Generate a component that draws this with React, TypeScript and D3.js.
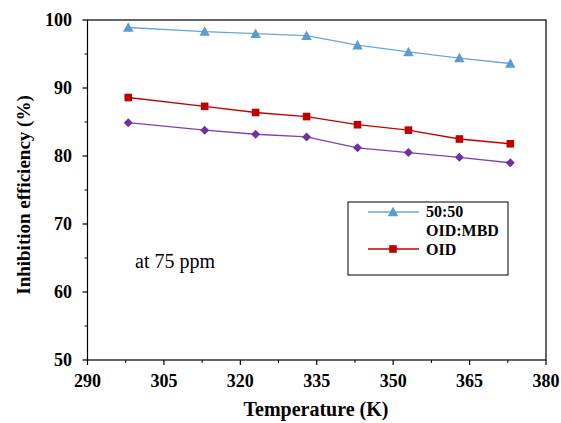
import React from "react";
import * as d3 from "d3";

const temps = [298, 313, 323, 333, 343, 353, 363, 373];
const blendValues = [98.9, 98.3, 98.0, 97.7, 96.3, 95.3, 94.4, 93.6];
const oidValues = [88.6, 87.3, 86.4, 85.8, 84.6, 83.8, 82.5, 81.8];
const mbdValues = [84.9, 83.8, 83.2, 82.8, 81.2, 80.5, 79.8, 79.0];
const xTicks = [290, 305, 320, 335, 350, 365, 380];
const xMinor = [297.5, 312.5, 327.5, 342.5, 357.5, 372.5];
const yTicks = [50, 60, 70, 80, 90, 100];
const yMinor = [55, 65, 75, 85, 95];

const W = 561, H = 423;
const L = 87.5, R = 546, T = 20, B = 360;
const FONT = "Liberation Serif";

// Text drawn at a large size (so the serif face is used) and scaled to the wanted size.
function T2(props: { x: number; y: number; size: number; bold?: boolean; anchor?: string; rotate?: number; children: React.ReactNode; dy?: string }) {
  const base = 24;
  const k = props.size / base;
  return (
    <text
      transform={`translate(${props.x},${props.y}) rotate(${props.rotate || 0}) scale(${k})`}
      fontFamily={FONT}
      fontWeight={props.bold ? "bold" : "normal"}
      fontSize={base}
      textAnchor={props.anchor || "start"}
      dy={props.dy}
    >
      {props.children}
    </text>
  );
}

export default function App() {
  const x = d3.scaleLinear().domain([290, 380]).range([L, R]);
  const y = d3.scaleLinear().domain([50, 100]).range([B, T]);
  const line = d3.line<number>().x((_, i) => x(temps[i])).y((v) => y(v));

  const tri = (cx: number, cy: number, s: number) =>
    `M${cx},${cy - s * 0.55} L${cx + s * 0.55},${cy + s * 0.45} L${cx - s * 0.55},${cy + s * 0.45} Z`;

  return (
    <svg width={W} height={H} style={{ position: "absolute", left: 0, top: 0 }}>
      <rect x={0} y={0} width={W} height={H} fill="#fff" />
      <rect x={L} y={T} width={R - L} height={B - T} fill="none" stroke="#000" strokeWidth={1.2} />
      {yTicks.map((t) => (
        <g key={"y" + t}>
          <line x1={L - 5} x2={L} y1={y(t)} y2={y(t)} stroke="#000" strokeWidth={1.2} />
          <T2 x={72} y={y(t)} size={18} bold anchor="end" dy="0.34em">{t}</T2>
        </g>
      ))}
      {yMinor.map((t) => (
        <line key={"ym" + t} x1={L - 3} x2={L} y1={y(t)} y2={y(t)} stroke="#000" strokeWidth={1} />
      ))}
      {xTicks.map((t) => (
        <g key={"x" + t}>
          <line x1={x(t)} x2={x(t)} y1={B} y2={B + 5} stroke="#000" strokeWidth={1.2} />
          <T2 x={x(t)} y={B + 27} size={18} bold anchor="middle">{t}</T2>
        </g>
      ))}
      {xMinor.map((t) => (
        <line key={"xm" + t} x1={x(t)} x2={x(t)} y1={B} y2={B + 3} stroke="#000" strokeWidth={1} />
      ))}
      <path d={line(mbdValues) || ""} fill="none" stroke="#8040B5" strokeWidth={1.3} />
      <path d={line(oidValues) || ""} fill="none" stroke="#C00000" strokeWidth={1.3} />
      <path d={line(blendValues) || ""} fill="none" stroke="#6AA6DC" strokeWidth={1.3} />
      {mbdValues.map((v, i) => {
        const cx = x(temps[i]), cy = y(v), s = 4.5;
        return (
          <path key={"d" + i} d={`M${cx},${cy - s} L${cx + s},${cy} L${cx},${cy + s} L${cx - s},${cy} Z`} fill="#7030A0" />
        );
      })}
      {oidValues.map((v, i) => (
        <rect key={"s" + i} x={x(temps[i]) - 3.8} y={y(v) - 3.8} width={7.6} height={7.6} fill="#C00000" />
      ))}
      {blendValues.map((v, i) => (
        <path key={"t" + i} d={tri(x(temps[i]), y(v), 9.5)} fill="#5B9BD5" />
      ))}
      <rect x={348} y={202} width={160} height={73} fill="#fff" stroke="#000" strokeWidth={1} />
      <line x1={368} x2={419} y1={212} y2={212} stroke="#6AA6DC" strokeWidth={1.3} />
      <path d={tri(393, 212, 9.5)} fill="#5B9BD5" />
      <T2 x={426} y={217} size={16} bold>50:50</T2>
      <T2 x={426} y={236} size={16} bold>OID:MBD</T2>
      <line x1={368} x2={419} y1={249} y2={249} stroke="#C00000" strokeWidth={1.3} />
      <rect x={389.2} y={245.2} width={7.6} height={7.6} fill="#C00000" />
      <T2 x={426} y={254.5} size={16} bold>OID</T2>
      <T2 x={135} y={268} size={20}>at 75 ppm</T2>
      <T2 x={316} y={416} size={20} bold anchor="middle">Temperature (K)</T2>
      <T2 x={30} y={(T + B) / 2 + 5} size={19} bold anchor="middle" rotate={-90}>
        Inhibition efficiency (%)
      </T2>
    </svg>
  );
}
